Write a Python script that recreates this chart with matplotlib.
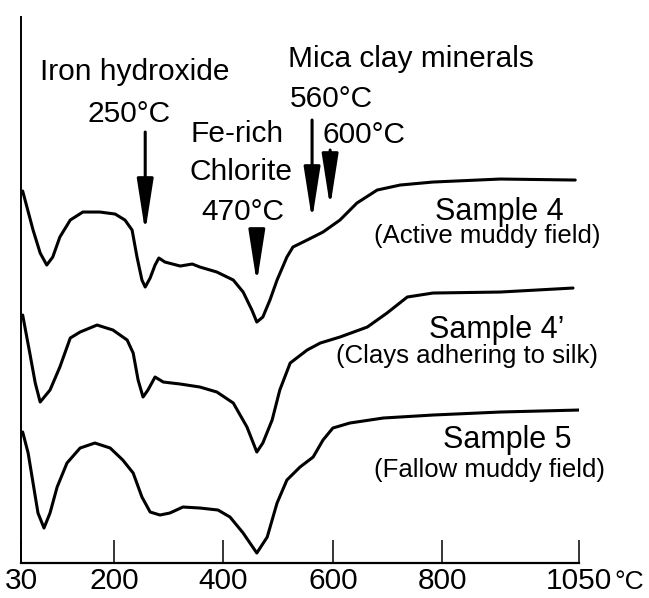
import matplotlib
matplotlib.use("Agg")
import matplotlib.pyplot as plt

plt.rcParams['font.family'] = ['Liberation Sans', 'DejaVu Sans']

# DTA curves, temperature (deg C) vs. signal (arbitrary units, offset per sample)
t4 = [33, 52, 65, 77, 88, 101, 120, 143, 174, 202, 220, 233, 242, 251, 257, 266,
      275, 282, 293, 321, 343, 357, 388, 418, 436, 452, 461, 472, 485, 498, 516,
      527, 553, 582, 613, 644, 681, 723, 783, 906, 1043]
s4 = [372, 333, 310, 298, 306, 326, 343, 351, 351, 349, 343, 333, 306, 283, 276, 285,
      298, 305, 301, 297, 299, 296, 291, 283, 271, 253, 241, 246, 263, 283, 306,
      316, 323, 331, 343, 360, 373, 378, 381, 384, 383]

t4b = [33, 46, 56, 65, 83, 101, 120, 138, 169, 198, 224, 235, 244, 253, 262, 275,
       290, 321, 357, 388, 418, 443, 461, 472, 489, 503, 522, 553, 577, 613, 663,
       699, 736, 783, 906, 1039]
s4b = [248, 210, 180, 161, 173, 196, 225, 231, 238, 233, 223, 210, 183, 166, 173, 186,
       181, 179, 176, 171, 160, 136, 111, 120, 143, 173, 200, 213, 220, 226, 236,
       250, 266, 270, 271, 275]

t5 = [33, 43, 52, 61, 72, 83, 96, 114, 138, 165, 193, 216, 235, 251, 266, 284,
      302, 326, 357, 390, 412, 436, 461, 480, 498, 516, 540, 564, 582, 600, 631,
      692, 783, 906, 1050]
s5 = [131, 110, 80, 50, 35, 50, 76, 100, 115, 120, 115, 103, 90, 66, 51, 48,
      50, 56, 55, 53, 46, 30, 10, 26, 60, 83, 96, 106, 123, 135, 140,
      145, 148, 151, 153]

xticks = [30, 200, 400, 600, 800, 1050]
xticklabels = ['30', '200', '400', '600', '800', '1050']

fig = plt.figure(figsize=(6.49, 5.98), dpi=100)
ax = fig.add_axes([0.0324, 0.0585, 0.8598, 0.913])

for t, s in [(t4, s4), (t4b, s4b), (t5, s5)]:
    ax.plot(t, s, color='black', lw=2.2, solid_capstyle='round', solid_joinstyle='round')

ax.set_xlim(30, 1050)
ax.set_ylim(0, 546)
ax.spines['top'].set_visible(False)
ax.spines['right'].set_visible(False)
ax.spines['left'].set_linewidth(1.4)
ax.spines['bottom'].set_linewidth(1.6)
ax.set_yticks([])
ax.set_xticks(xticks)
ax.set_xticklabels(xticklabels)
ax.tick_params(axis='x', direction='in', length=16.5, width=1.1, pad=3, labelsize=21.5)
ax.text(1.063, -0.012, '°C', transform=ax.transAxes, fontsize=19, ha='left', va='top')

# annotation labels
fs = 21.5
ax.text(238, 483, 'Iron hydroxide', fontsize=fs, ha='center', va='baseline')
ax.text(227, 441, '250°C', fontsize=fs, ha='center', va='baseline')
ax.text(425, 421, 'Fe-rich', fontsize=fs, ha='center', va='baseline')
ax.text(432, 383, 'Chlorite', fontsize=fs, ha='center', va='baseline')
ax.text(436, 343, '470°C', fontsize=fs, ha='center', va='baseline')
ax.text(743, 496, 'Mica clay minerals', fontsize=fs, ha='center', va='baseline')
ax.text(598, 456, '560°C', fontsize=fs, ha='center', va='baseline')
ax.text(657, 420, '600°C', fontsize=fs, ha='center', va='baseline')

arrow = dict(arrowstyle='-|>,head_length=3.2,head_width=0.5', color='black',
             lw=2.2, shrinkA=0, shrinkB=0, mutation_scale=10)
for x, top, tip in [(257, 431, 331), (461, 330, 280), (562, 443, 343), (595, 413, 356)]:
    ax.annotate('', xy=(x, tip), xytext=(x, top), arrowprops=arrow)

# sample labels
ax.text(904, 343, 'Sample 4', fontsize=22, ha='center', va='baseline')
ax.text(882, 320, '(Active muddy field)', fontsize=18.5, ha='center', va='baseline')
ax.text(900, 225, 'Sample 4’', fontsize=22, ha='center', va='baseline')
ax.text(845, 200, '(Clays adhering to silk)', fontsize=18.5, ha='center', va='baseline')
ax.text(918, 115, 'Sample 5', fontsize=22, ha='center', va='baseline')
ax.text(887, 86, '(Fallow muddy field)', fontsize=18.5, ha='center', va='baseline')

fig.savefig('out.png', dpi=100)
